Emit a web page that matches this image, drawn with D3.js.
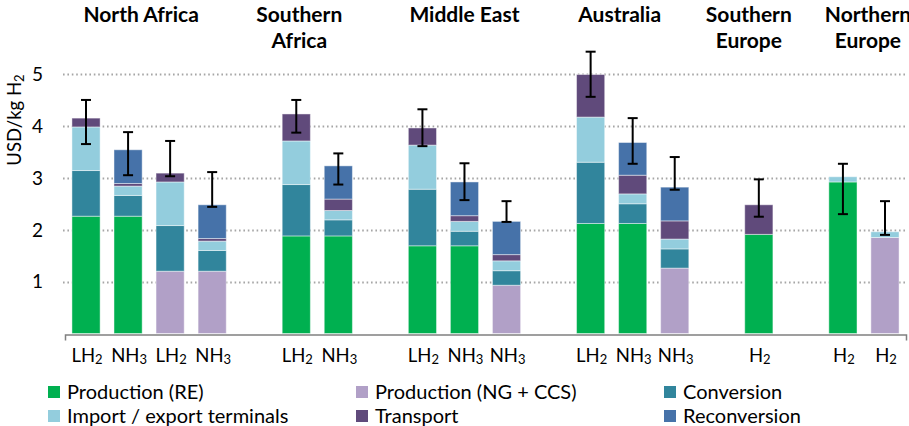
<!DOCTYPE html>
<html><head><meta charset="utf-8">
<script src="https://cdn.jsdelivr.net/npm/d3@7"></script>
<style>
html,body{margin:0;padding:0;background:#fff;}
svg{display:block;font-family:Lato,"Open Sans",sans-serif;}
</style></head>
<body><svg id="chart" width="909" height="426"></svg>
<script>
// ---- data ----
const slotLabels = [["LH","2"],["NH","3"],["LH","2"],["NH","3"],null,
  ["LH","2"],["NH","3"],null,
  ["LH","2"],["NH","3"],["NH","3"],null,
  ["LH","2"],["NH","3"],["NH","3"],null,
  ["H","2"],null,
  ["H","2"],["H","2"]];
const barSlots = [0,1,2,3,5,6,8,9,10,12,13,14,16,18,19];
const seriesNames = ["Production (RE)","Production (NG + CCS)","Conversion","Import / export terminals","Transport","Reconversion"];
const productionRE = [2.26,2.26,0,0,1.88,1.88,1.69,1.69,0,2.12,2.12,0,1.91,2.92,0];
const productionNG = [0,0,1.20,1.20,0,0,0,0,0.93,0,0,1.26,0,0,1.85];
const conversion   = [0.88,0.40,0.88,0.40,0.99,0.31,1.09,0.28,0.28,1.18,0.38,0.37,0,0,0];
const terminals    = [0.84,0.18,0.84,0.18,0.84,0.18,0.85,0.19,0.19,0.87,0.19,0.19,0,0.10,0.11];
const transport    = [0.17,0.05,0.17,0.05,0.52,0.22,0.33,0.11,0.12,0.82,0.36,0.35,0.57,0,0];
const reconversion = [0,0.65,0,0.65,0,0.64,0,0.65,0.64,0,0.63,0.65,0,0,0];
const errLow  = [3.65,3.05,3.03,2.44,3.87,2.87,3.61,2.57,2.15,4.56,3.27,2.77,2.25,2.30,1.90];
const errHigh = [4.50,3.88,3.71,3.11,4.50,3.47,4.32,3.28,2.55,5.43,4.15,3.40,2.97,3.27,2.55];
const groupNames = [["North Africa"],["Southern","Africa"],["Middle East"],["Australia"],["Southern","Europe"],["Northern","Europe"]];
const groupSlots = [[0,3],[5,6],[8,10],[12,14],[16,16],[18,19]];
const yTicks = [1,2,3,4,5];
const yLabel = ["USD/kg H","2"];

// ---- styles ----
const colors = ["#00B050","#B1A0C7","#31859C","#93CDDD","#604A7B","#4672A9"];
const groupDx = [-8,-18,0,-13,-10,4];

const svg = d3.select("#chart");
const x = d3.scaleBand().domain(d3.range(slotLabels.length)).range([65,906]).paddingInner(0.33).paddingOuter(0.165);
const y = d3.scaleLinear().domain([0,5]).range([333.5,74]);

// gridlines
svg.append("g").selectAll("line").data(yTicks).join("line")
  .attr("x1",63).attr("x2",906)
  .attr("y1",d=>Math.round(y(d))+0.5).attr("y2",d=>Math.round(y(d))+0.5)
  .attr("stroke","#a6a6a6").attr("stroke-width",2)
  .attr("stroke-dasharray","1.6 2.8");

// y tick labels
svg.append("g").selectAll("text").data(yTicks).join("text")
  .attr("x",43).attr("y",d=>y(d)).attr("dy","0.36em")
  .attr("text-anchor","end").attr("font-size",19).attr("fill","#000")
  .text(d=>d);

// y label
const yl = svg.append("text").attr("transform","translate(21,120) rotate(-90)")
  .attr("text-anchor","middle").attr("font-size",18.5).attr("fill","#000");
yl.append("tspan").text(yLabel[0]);
yl.append("tspan").attr("font-size",13).attr("dy",3).text(yLabel[1]);

// stacked bars
const seriesVals = [productionRE,productionNG,conversion,terminals,transport,reconversion];
const bars = barSlots.map((s,i)=>{
  let acc=0; const segs=[];
  seriesVals.forEach((arr,k)=>{ const v=arr[i]; if(v>0){segs.push({k,y0:acc,y1:acc+v}); acc+=v;} });
  return {slot:s, segs, i};
});
const gb = svg.append("g");
bars.forEach(b=>{
  gb.selectAll(null).data(b.segs).join("rect")
    .attr("x",x(b.slot)).attr("width",x.bandwidth())
    .attr("y",d=>y(d.y1)).attr("height",d=>y(d.y0)-y(d.y1))
    .attr("fill",d=>colors[d.k])
    .attr("stroke","rgba(255,255,255,0.45)").attr("stroke-width",1);
});

// axis line
const axis = d3.axisBottom(x).tickValues([]).tickSizeOuter(6);
const ga = svg.append("g").attr("transform",`translate(0,${Math.round(y(0))+0.5})`).call(axis);
ga.select(".domain").attr("stroke","#808080").attr("stroke-width",1.5);

// error bars
const ge = svg.append("g").attr("stroke","#000").attr("stroke-width",2);
barSlots.forEach((s,i)=>{
  const cx = x(s)+x.bandwidth()/2;
  ge.append("line").attr("x1",cx).attr("x2",cx).attr("y1",y(errLow[i])).attr("y2",y(errHigh[i]));
  ge.append("line").attr("x1",cx-5).attr("x2",cx+5).attr("y1",y(errLow[i])).attr("y2",y(errLow[i]));
  ge.append("line").attr("x1",cx-5).attr("x2",cx+5).attr("y1",y(errHigh[i])).attr("y2",y(errHigh[i]));
});

// x labels
slotLabels.forEach((l,s)=>{
  if(!l) return;
  const t = svg.append("text").attr("x",x(s)+x.bandwidth()/2+1).attr("y",362)
    .attr("text-anchor","middle").attr("font-size",18.5).attr("fill","#000");
  t.append("tspan").text(l[0]);
  t.append("tspan").attr("font-size",13).attr("dy",2).text(l[1]);
});

// group titles
groupNames.forEach((g,i)=>{
  const [a,b] = groupSlots[i];
  const cx = (x(a)+x(b)+x.bandwidth())/2 + groupDx[i];
  const t = svg.append("text").attr("text-anchor","middle").attr("font-size",21)
    .attr("font-weight","bold").attr("fill","#000");
  g.forEach((line,j)=> t.append("tspan").attr("x",cx).attr("y",22+j*26).text(line));
});

// legend
const legX = [48,356,664], legY = [392,416];
seriesNames.forEach((n,i)=>{
  const lx = legX[i%3], ly = legY[Math.floor(i/3)];
  svg.append("rect").attr("x",lx).attr("y",ly-6).attr("width",12).attr("height",12).attr("fill",colors[i]);
  svg.append("text").attr("x",lx+19).attr("y",ly).attr("dy","0.35em")
    .attr("font-size",20).attr("fill","#000").text(n);
});
</script></body></html>
